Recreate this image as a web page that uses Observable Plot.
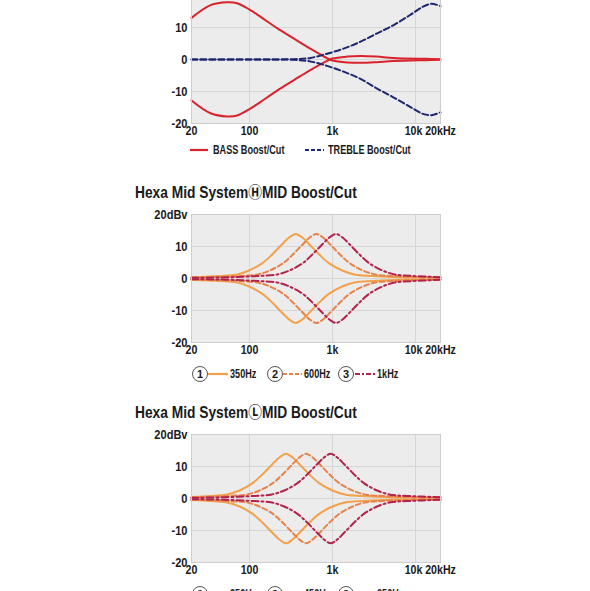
<!DOCTYPE html>
<html>
<head>
<meta charset="utf-8">
<script src="https://cdn.jsdelivr.net/npm/d3@7"></script>
<script src="https://cdn.jsdelivr.net/npm/@observablehq/plot@0.6"></script>
<style>
  html, body { margin: 0; padding: 0; background: #fff; }
  body { width: 590px; height: 591px; overflow: hidden; position: relative;
         font-family: "Liberation Sans", Arial, "Noto Sans CJK JP", sans-serif; }
  .block { position: absolute; left: 0; width: 590px; }
  .title { position: absolute; left: 135px; top: 0; height: 18px; line-height: 18px;
           font-size: 16px; font-weight: bold; color: #1a1a1a; white-space: nowrap;
           transform: scaleX(0.86); transform-origin: 0 50%; }
  .plot { position: absolute; left: 0; top: 18px; }
  .legend { position: absolute; left: 0; width: 590px; height: 24px; font-size: 12px; font-weight: bold; color: #1a1a1a; }
  .legend > * { position: absolute; top: 0; height: 24px; line-height: 24px; }
  .lbl { white-space: nowrap; transform: scaleX(0.76); transform-origin: 0 50%; }
  .circ { width: 14px; height: 14px; line-height: 14px !important; top: 4px !important; border: 1.4px solid #555;
          border-radius: 50%; text-align: center; font-size: 11px; background: #fff; box-sizing: content-box; }
</style>
</head>
<body>
<script>
// ---------- axes ----------
const xTicks = [20, 100, 1000, 10000, 20000];
const xLabels = ["20", "100", "1k", "10k", "20kHz"];
const xGrid = [100, 1000, 10000];
const yTicks = [-20, -10, 0, 10, 20];
const yLabels = ["-20", "-10", "0", "10", "20dBv"];
const yGrid = [-10, 0, 10];

// ---------- chart 1 : BASS / TREBLE ----------
const bassFreq  = [20, 34, 54, 71, 100, 135, 215, 340, 540, 860, 1000, 1500, 2200, 3400, 5400, 13500, 20000];
const bassBoost = [13.0, 17.0, 17.9, 17.6, 15.6, 13.4, 9.8, 6.6, 3.4, 0.4, -0.3, -0.9, -1.05, -0.85, -0.5, -0.2, -0.1];
const bassCut   = [-12.8, -16.8, -17.8, -17.5, -15.5, -13.3, -9.7, -6.5, -3.3, -0.4, 0.3, 0.9, 1.1, 0.9, 0.5, 0.2, 0.1];

const trebleFreq  = [20, 100, 340, 540, 860, 1360, 2150, 3400, 5400, 8600, 12300, 15500, 20000];
const trebleBoost = [0, 0, 0.1, 0.5, 1.8, 3.4, 5.5, 8.1, 10.7, 13.9, 16.5, 17.4, 16.7];
const trebleCut   = [0, 0, -0.1, -0.6, -2.0, -3.8, -6.0, -9.0, -11.8, -14.8, -17.0, -17.4, -16.5];

// ---------- chart 2 : H MID ----------
const h350Freq  = [20, 43, 69, 99, 143, 189, 249, 300, 360, 433, 520, 686, 904, 1307, 1890, 3000, 6860, 20000];
const h350Boost = [0.4, 0.8, 1.2, 2.5, 4.8, 7.6, 10.8, 12.8, 13.9, 12.8, 10.8, 7.6, 4.8, 2.5, 1.2, 0.8, 0.4, 0.3];
const h350Cut   = [-0.4, -0.8, -1.2, -2.5, -4.8, -7.6, -10.8, -12.8, -13.9, -12.8, -10.8, -7.6, -4.8, -2.5, -1.2, -0.8, -0.4, -0.3];

const h600Freq  = [20, 34, 77, 122, 176, 255, 336, 443, 532, 640, 769, 925, 1219, 1608, 2323, 3360, 5325, 12190, 20000];
const h600Boost = [0.3, 0.4, 0.8, 1.2, 2.5, 4.8, 7.6, 10.8, 12.8, 13.9, 12.8, 10.8, 7.6, 4.8, 2.5, 1.2, 0.8, 0.4, 0.3];
const h600Cut   = [-0.3, -0.4, -0.8, -1.2, -2.5, -4.8, -7.6, -10.8, -12.8, -13.9, -12.8, -10.8, -7.6, -4.8, -2.5, -1.2, -0.8, -0.4, -0.3];

const h1kFreq  = [20, 58, 132, 210, 303, 438, 577, 761, 915, 1100, 1322, 1590, 2096, 2763, 3993, 5775, 9152, 20000];
const h1kBoost = [0.2, 0.4, 0.8, 1.2, 2.5, 4.8, 7.6, 10.8, 12.8, 13.9, 12.8, 10.8, 7.6, 4.8, 2.5, 1.2, 0.8, 0.4];
const h1kCut   = [-0.2, -0.4, -0.8, -1.2, -2.5, -4.8, -7.6, -10.8, -12.8, -13.9, -12.8, -10.8, -7.6, -4.8, -2.5, -1.2, -0.8, -0.4];

// ---------- chart 3 : L MID ----------
const l250Freq  = [20, 33, 52, 76, 109, 144, 190, 229, 275, 331, 397, 524, 691, 998, 1444, 2288, 5240, 20000];
const l250Boost = [0.5, 0.8, 1.2, 2.5, 4.8, 7.6, 10.8, 12.8, 14.0, 12.8, 10.8, 7.6, 4.8, 2.5, 1.2, 0.8, 0.4, 0.3];
const l250Cut   = [-0.5, -0.8, -1.2, -2.5, -4.8, -7.6, -10.8, -12.8, -14.0, -12.8, -10.8, -7.6, -4.8, -2.5, -1.2, -0.8, -0.4, -0.3];

const l450Freq  = [20, 25, 58, 91, 132, 191, 252, 332, 399, 480, 577, 694, 914, 1206, 1742, 2520, 3994, 9144, 20000];
const l450Boost = [0.3, 0.4, 0.8, 1.2, 2.5, 4.8, 7.6, 10.8, 12.8, 14.0, 12.8, 10.8, 7.6, 4.8, 2.5, 1.2, 0.8, 0.4, 0.3];
const l450Cut   = [-0.3, -0.4, -0.8, -1.2, -2.5, -4.8, -7.6, -10.8, -12.8, -14.0, -12.8, -10.8, -7.6, -4.8, -2.5, -1.2, -0.8, -0.4, -0.3];

const l850Freq  = [20, 50, 114, 181, 262, 378, 499, 657, 790, 950, 1142, 1373, 1810, 2386, 3449, 4988, 7904, 20000];
const l850Boost = [0.2, 0.4, 0.8, 1.2, 2.5, 4.8, 7.6, 10.8, 12.8, 14.0, 12.8, 10.8, 7.6, 4.8, 2.5, 1.2, 0.8, 0.4];
const l850Cut   = [-0.2, -0.4, -0.8, -1.2, -2.5, -4.8, -7.6, -10.8, -12.8, -14.0, -12.8, -10.8, -7.6, -4.8, -2.5, -1.2, -0.8, -0.4];

// ---------- styles ----------
const RED = "#d8232c", NAVY = "#1e2870";
const ORANGE = "#f2a24c", ORANGE_D = "#e6824a", CRIMSON = "#b2234c";
const DASH = "5,3", DASHDOT = "7,3,2,3", NAVYDASH = "6,3";
const FONT = '"Liberation Sans", Arial, sans-serif';

const rows = (freq, vals) => freq.map((f, i) => ({f, db: vals[i]}));
const xMap = new Map(xTicks.map((t, i) => [t, xLabels[i]]));
const yMap = new Map(yTicks.map((t, i) => [t, yLabels[i]]));

function makeLine(freq, vals, stroke, dash) {
  return Plot.line(rows(freq, vals), {x: "f", y: "db", stroke, strokeWidth: 2,
    strokeDasharray: dash, curve: "catmull-rom"});
}

function condense(svg, k) {
  svg.querySelectorAll("text").forEach(t => {
    const tr = t.getAttribute("transform");
    if (tr) t.setAttribute("transform", tr + ` scale(${k},1)`);
    else {
      const x = +(t.getAttribute("x") || 0), y = +(t.getAttribute("y") || 0);
      t.removeAttribute("x"); t.removeAttribute("y");
      t.setAttribute("transform", `translate(${x},${y}) scale(${k},1)`);
    }
  });
  return svg;
}

function chart(lines, yTickSet) {
  const xMain = xTicks.filter(d => d !== 10000);
  const svg = Plot.plot({
    width: 590, height: 160,
    marginLeft: 191, marginRight: 150, marginTop: 12, marginBottom: 20,
    style: {fontFamily: FONT, fontWeight: "bold", fontSize: "12px", color: "#1a1a1a", background: "transparent", overflow: "visible"},
    x: {type: "log", domain: [20, 20000], axis: null},
    y: {domain: [-20, 20], axis: null},
    marks: [
      Plot.frame({fill: "#ececec", stroke: null}),
      Plot.ruleX(xGrid, {stroke: "#d6d6d6", strokeWidth: 1}),
      Plot.ruleY(yGrid, {stroke: "#d6d6d6", strokeWidth: 1}),
      ...lines,
      Plot.frame({stroke: "#cdcdcd", strokeWidth: 1}),
      Plot.text(xMain, {x: d => d, text: d => xMap.get(d), frameAnchor: "bottom", lineAnchor: "top", dy: 3,
        fill: "#1a1a1a", fontWeight: "bold", fontSize: 12.5}),
      Plot.text([10000], {x: d => d, text: d => xMap.get(d), frameAnchor: "bottom", lineAnchor: "top", dy: 3, dx: -2,
        fill: "#1a1a1a", fontWeight: "bold", fontSize: 12.5}),
      Plot.text(yTickSet, {y: d => d, text: d => yMap.get(d), frameAnchor: "left", textAnchor: "end", dx: -4,
        fill: "#1a1a1a", fontWeight: "bold", fontSize: 13})
    ]
  });
  return condense(svg, 0.85);
}

function block(top, title, plotEl, legendTop, legendItems) {
  const b = document.createElement("div");
  b.className = "block";
  b.style.top = top + "px";
  b.style.height = "220px";
  if (title) {
    const t = document.createElement("div");
    t.className = "title";
    t.textContent = title;
    b.appendChild(t);
  }
  const p = document.createElement("div");
  p.className = "plot";
  p.appendChild(plotEl);
  b.appendChild(p);
  const lg = document.createElement("div");
  lg.className = "legend";
  lg.style.top = legendTop + "px";
  for (const it of legendItems) {
    if (it.num) {
      const c = document.createElement("span");
      c.className = "circ";
      c.style.left = (it.circleX - 8) + "px";
      c.textContent = it.num;
      lg.appendChild(c);
    }
    const svgNS = "http://www.w3.org/2000/svg";
    const s = document.createElementNS(svgNS, "svg");
    s.setAttribute("width", it.x2 - it.x1);
    s.setAttribute("height", 24);
    s.style.position = "absolute";
    s.style.left = it.x1 + "px";
    s.style.top = "0px";
    const ln = document.createElementNS(svgNS, "line");
    ln.setAttribute("x1", 0); ln.setAttribute("x2", it.x2 - it.x1);
    ln.setAttribute("y1", 12); ln.setAttribute("y2", 12);
    ln.setAttribute("stroke", it.stroke); ln.setAttribute("stroke-width", 2.2);
    if (it.dash) ln.setAttribute("stroke-dasharray", it.dash);
    s.appendChild(ln);
    lg.appendChild(s);
    const tx = document.createElement("span");
    tx.className = "lbl";
    tx.style.left = it.textX + "px";
    tx.textContent = it.label;
    lg.appendChild(tx);
  }
  b.appendChild(lg);
  document.body.appendChild(b);
}

// chart 1
block(-35, null, chart([
  makeLine(bassFreq, bassBoost, RED),
  makeLine(bassFreq, bassCut, RED),
  makeLine(trebleFreq, trebleBoost, NAVY, NAVYDASH),
  makeLine(trebleFreq, trebleCut, NAVY, NAVYDASH)
], [-20, -10, 0, 10]), 173, [
  {x1: 190, x2: 208, textX: 213, stroke: RED, label: "BASS Boost/Cut"},
  {x1: 305, x2: 324, textX: 328, stroke: NAVY, dash: "4,2", label: "TREBLE Boost/Cut"}
]);

// chart 2
block(184, "Hexa Mid System\u24BDMID Boost/Cut", chart([
  makeLine(h350Freq, h350Boost, ORANGE),
  makeLine(h350Freq, h350Cut, ORANGE),
  makeLine(h600Freq, h600Boost, ORANGE_D, DASH),
  makeLine(h600Freq, h600Cut, ORANGE_D, DASH),
  makeLine(h1kFreq, h1kBoost, CRIMSON, DASHDOT),
  makeLine(h1kFreq, h1kCut, CRIMSON, DASHDOT)
], yTicks), 178, [
  {num: "1", circleX: 200, x1: 208, x2: 228, textX: 230, stroke: ORANGE, label: "350Hz"},
  {num: "2", circleX: 275, x1: 283, x2: 302, textX: 304, stroke: ORANGE_D, dash: "4,2", label: "600Hz"},
  {num: "3", circleX: 346, x1: 355, x2: 375, textX: 377, stroke: CRIMSON, dash: "5,2,2,2", label: "1kHz"}
]);

// chart 3
block(403.5, "Hexa Mid System\u24C1MID Boost/Cut", chart([
  makeLine(l250Freq, l250Boost, ORANGE),
  makeLine(l250Freq, l250Cut, ORANGE),
  makeLine(l450Freq, l450Boost, ORANGE_D, DASH),
  makeLine(l450Freq, l450Cut, ORANGE_D, DASH),
  makeLine(l850Freq, l850Boost, CRIMSON, DASHDOT),
  makeLine(l850Freq, l850Cut, CRIMSON, DASHDOT)
], yTicks), 178, [
  {num: "1", circleX: 200, x1: 208, x2: 228, textX: 230, stroke: ORANGE, label: "250Hz"},
  {num: "2", circleX: 275, x1: 283, x2: 302, textX: 304, stroke: ORANGE_D, dash: "4,2", label: "450Hz"},
  {num: "3", circleX: 346, x1: 355, x2: 375, textX: 377, stroke: CRIMSON, dash: "5,2,2,2", label: "850Hz"}
]);
</script>
</body>
</html>
